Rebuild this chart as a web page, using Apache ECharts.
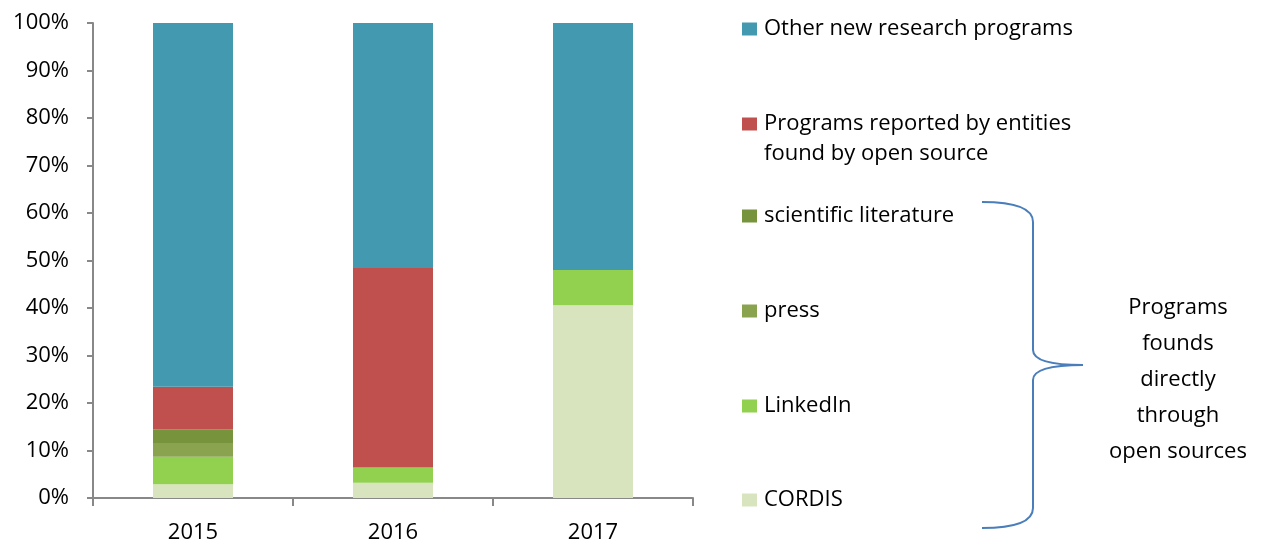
<!DOCTYPE html>
<html>
<head>
    <meta charset="UTF-8">
    <title>Programs by source</title>
    <style>
        body { margin: 0; background: #fff; }
    </style>
</head>
<body>
    <div id="main" style="width: 1275px;height:546px;"></div>
    <script src="https://cdn.jsdelivr.net/npm/echarts@6/dist/echarts.min.js"></script>
    <script type="text/javascript">
        // data (share of programs, %)
        var years = ['2015', '2016', '2017'];
        var seriesNames = [
            'CORDIS',
            'LinkedIn',
            'press',
            'scientific literature',
            'Programs reported by entities found by open source',
            'Other new research programs'
        ];
        var cordis = [2.9, 3.2, 40.6];
        var linkedin = [5.8, 3.2, 7.4];
        var press = [2.9, 0, 0];
        var sciLit = [2.9, 0, 0];
        var reported = [8.9, 42.0, 0];
        var other = [76.6, 51.6, 52.0];
        var yTicks = [0, 10, 20, 30, 40, 50, 60, 70, 80, 90, 100];

        var values = [cordis, linkedin, press, sciLit, reported, other];
        var colors = ['#d7e4bd', '#92d050', '#8aa34f', '#77933c', '#c0504d', '#4299b0'];
        var fontFam = 'Open Sans';
        var fs = 22;

        var myChart = echarts.init(document.getElementById('main'));

        var series = seriesNames.map(function (n, i) {
            return {
                name: n,
                type: 'bar',
                stack: 'all',
                barWidth: 80,
                itemStyle: { color: colors[i] },
                data: values[i]
            };
        });

        // one legend per item so the spacing can follow the original
        var legendTops = [13, 108, 200, 295, 390, 484];
        var legendOrder = [5, 4, 3, 2, 1, 0];
        var legends = legendOrder.map(function (idx, k) {
            return {
                data: [seriesNames[idx]],
                left: 742,
                top: legendTops[k],
                padding: 0,
                orient: 'vertical',
                itemWidth: 15,
                itemHeight: 13,
                icon: 'rect',
                selectedMode: false,
                formatter: function (name) {
                    // long name wraps; second line is drawn below as its own text
                    return idx === 4 ? 'Programs reported by entities' : name;
                },
                textStyle: {
                    fontFamily: fontFam, fontSize: fs, color: '#000',
                    lineHeight: 32, padding: [0, 0, 0, 2]
                }
            };
        });

        // curly brace grouping the open source items
        var braceStyle = { stroke: '#4a7ebb', lineWidth: 2, fill: null };
        var brace = [
            { type: 'bezierCurve', shape: { x1: 982, y1: 202, cpx1: 1033, cpy1: 202, x2: 1033, y2: 222 } },
            { type: 'line', shape: { x1: 1033, y1: 222, x2: 1033, y2: 350 } },
            { type: 'bezierCurve', shape: { x1: 1033, y1: 350, cpx1: 1033, cpy1: 365, x2: 1083, y2: 365 } },
            { type: 'bezierCurve', shape: { x1: 1083, y1: 365, cpx1: 1033, cpy1: 365, x2: 1033, y2: 380 } },
            { type: 'line', shape: { x1: 1033, y1: 380, x2: 1033, y2: 508 } },
            { type: 'bezierCurve', shape: { x1: 1033, y1: 508, cpx1: 1033, cpy1: 528, x2: 982, y2: 528 } }
        ].map(function (g) { g.style = braceStyle; return g; });

        myChart.setOption({
            animation: false,
            grid: { left: 93, right: 582, top: 23, bottom: 48 },
            legend: legends,
            xAxis: {
                type: 'category',
                data: years,
                axisLine: { lineStyle: { color: '#888', width: 2 } },
                axisTick: { show: true, length: 8, lineStyle: { color: '#888', width: 2 } },
                axisLabel: { fontFamily: fontFam, fontSize: fs, color: '#000', margin: 24 }
            },
            yAxis: {
                type: 'value',
                min: yTicks[0],
                max: yTicks[yTicks.length - 1],
                interval: 10,
                splitLine: { show: false },
                axisLine: { show: true, lineStyle: { color: '#888', width: 2 } },
                axisTick: { show: true, length: 6, lineStyle: { color: '#888', width: 2 } },
                axisLabel: {
                    fontFamily: fontFam, fontSize: fs, color: '#000', margin: 24,
                    formatter: '{value}%'
                }
            },
            series: series,
            graphic: brace.concat([
                {
                    type: 'text',
                    x: 764,
                    y: 154,
                    style: {
                        text: 'found by open source',
                        font: fs + 'px ' + fontFam,
                        fill: '#000',
                        verticalAlign: 'middle'
                    }
                },
                {
                    type: 'text',
                    x: 1178,
                    y: 290,
                    style: {
                        text: 'Programs\nfounds\ndirectly\nthrough\nopen sources',
                        font: fs + 'px ' + fontFam,
                        fill: '#000',
                        align: 'center',
                        lineHeight: 36
                    }
                }
            ])
        });
    </script>
</body>
</html>
